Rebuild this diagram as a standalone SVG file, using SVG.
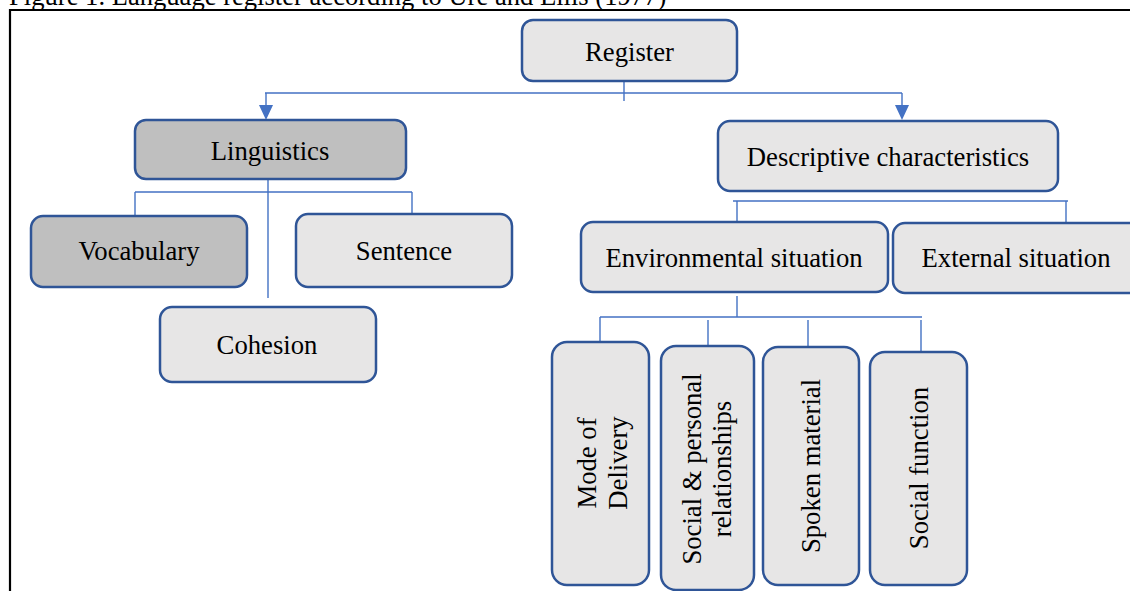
<svg xmlns="http://www.w3.org/2000/svg" width="1130" height="591" viewBox="0 0 1130 591">
<defs>
<style>
.box{fill:#e7e6e6;stroke:#2f5597;stroke-width:2.5}
.dark{fill:#bfbfbf}
.lbl{font-family:"Liberation Serif","Times New Roman",serif;font-size:26.7px;fill:#000;text-anchor:middle}
.ln{stroke:#4472c4;stroke-width:1.4;fill:none}
.ah{fill:#4472c4}
</style>
</defs>
<rect width="1130" height="591" fill="#fff"/>
<text x="9" y="5" font-family="Liberation Serif, serif" font-size="26.6" fill="#000">Figure 1. Language register according to Ure and Ellis (1977)</text>
<g id="frame" stroke="#000" stroke-width="2.2">
<line x1="9" y1="10" x2="1130" y2="10"/>
<line x1="10" y1="9" x2="10" y2="591"/>
</g>
<g id="connectors">
<path class="ln" d="M624 82V101M265 93H902M266 93V106M902 93V106"/>
<polygon class="ah" points="259,105 273,105 266,120"/>
<polygon class="ah" points="895,105 909,105 902,120"/>
<path class="ln" d="M268 180V298M135 192H412M135 192V216M412 192V214"/>
<path class="ln" d="M733 201H1068M737 201V222M1066 201V223"/>
<path class="ln" d="M737 296V317M600 317H922M600 317V342M708 320V345M808 320V346M921 320V351"/>
</g>
<g id="register"><rect class="box" x="522" y="20" width="215" height="61" rx="11"/><text class="lbl" x="629.5" y="61">Register</text></g>
<g id="linguistics"><rect class="box dark" x="135" y="120" width="271" height="59" rx="11"/><text class="lbl" x="270" y="160">Linguistics</text></g>
<g id="vocabulary"><rect class="box dark" x="31" y="216" width="216" height="71" rx="12"/><text class="lbl" x="139" y="260">Vocabulary</text></g>
<g id="sentence"><rect class="box" x="296" y="214" width="216" height="73" rx="12"/><text class="lbl" x="404" y="260">Sentence</text></g>
<g id="cohesion"><rect class="box" x="160" y="307" width="216" height="75" rx="12"/><text class="lbl" x="267" y="354">Cohesion</text></g>
<g id="descriptive"><rect class="box" x="718" y="121" width="340" height="70" rx="12"/><text class="lbl" x="888" y="166">Descriptive characteristics</text></g>
<g id="environmental"><rect class="box" x="581" y="222" width="307" height="70" rx="12"/><text class="lbl" x="734" y="267">Environmental situation</text></g>
<g id="external"><rect class="box" x="893" y="223" width="250" height="70" rx="12"/><text class="lbl" x="1016" y="267">External situation</text></g>
<g id="mode"><rect class="box" x="552" y="342" width="97" height="243" rx="15"/><text class="lbl" transform="translate(596,463) rotate(-90)"><tspan x="0" y="0">Mode of</tspan><tspan x="0" y="31">Delivery</tspan></text></g>
<g id="social-personal"><rect class="box" x="661" y="346" width="93" height="244" rx="15"/><text class="lbl" transform="translate(701,469) rotate(-90)"><tspan x="0" y="0">Social &amp; personal</tspan><tspan x="0" y="30">relationships</tspan></text></g>
<g id="spoken"><rect class="box" x="763" y="347" width="96" height="238" rx="15"/><text class="lbl" transform="translate(820,466) rotate(-90)">Spoken material</text></g>
<g id="social-function"><rect class="box" x="870" y="352" width="97" height="233" rx="15"/><text class="lbl" transform="translate(928,468) rotate(-90)">Social function</text></g>
</svg>
